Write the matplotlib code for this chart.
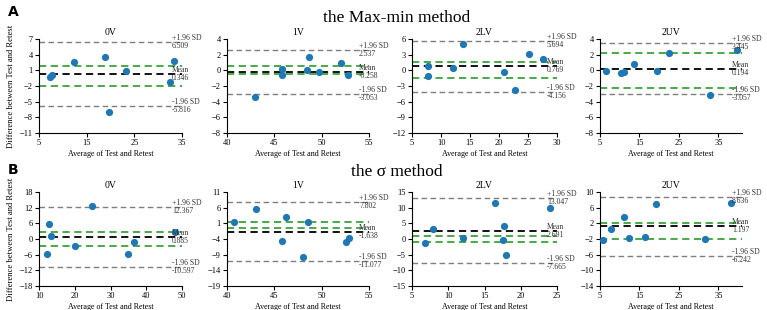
import matplotlib.pyplot as plt

plt.rcParams["font.family"] = ["Liberation Serif", "DejaVu Serif"]

# ==========================================================
# Data
# ==========================================================

panel_names = ["0V", "1V", "2LV", "2UV"]

# Max-min method
mm_0v_x = [7.25, 7.75, 12.4, 18.8, 23.2, 19.7, 32.4, 33.4]
mm_0v_y = [-0.2, 0.12, 2.6, 3.5, 0.9, -6.9, -1.3, 2.8]
mm_1v_x = [43.0, 45.8, 45.8, 48.4, 48.7, 49.7, 52.0, 52.8]
mm_1v_y = [-3.45, 0.13, -0.6, 0.1, 1.75, -0.17, 0.95, -0.6]
mm_2lv_x = [7.8, 7.8, 12.1, 13.8, 20.8, 22.7, 25.2, 27.6]
mm_2lv_y = [0.9, -1.1, 0.4, 4.95, -0.3, -3.85, 3.05, 2.2]
mm_2uv_x = [6.4, 10.4, 11.0, 13.5, 19.4, 22.6, 32.9, 39.8]
mm_2uv_y = [-0.1, -0.4, -0.15, 0.85, -0.1, 2.15, -3.1, 2.65]

# sigma method
sg_0v_x = [12.2, 12.8, 13.4, 20.1, 24.7, 34.8, 36.5, 48.1]
sg_0v_y = [-5.8, 5.9, 1.3, -2.6, 12.5, -5.8, -1.3, 2.6]
sg_1v_x = [40.7, 43.1, 45.8, 46.2, 48.0, 48.6, 52.6, 52.9]
sg_1v_y = [1.4, 5.6, -4.6, 2.9, -9.9, 1.4, -5.1, -3.7]
sg_2lv_x = [6.8, 7.9, 12.0, 16.4, 17.7, 17.6, 18.0, 24.1]
sg_2lv_y = [-1.4, 3.2, 0.2, 11.5, 4.3, -0.3, -5.0, 9.9]
sg_2uv_x = [5.8, 7.8, 11.0, 12.3, 16.4, 19.2, 31.7, 38.1]
sg_2uv_y = [-2.3, 0.5, 3.7, -1.8, -1.6, 7.0, -2.1, 7.1]

# limits of agreement: upper, mean, lower
mm_loa = [[6.509, 0.346, -5.816], [2.537, -0.258, -3.053],
          [5.694, 0.769, -4.156], [3.445, 0.194, -3.057]]
sg_loa = [[12.367, 0.885, -10.597], [7.802, -1.638, -11.077],
          [13.047, 2.691, -7.665], [8.636, 1.197, -6.242]]

# green dashed band
mm_band = [[1.8, -2.0], [0.55, -0.5], [1.5, -1.5], [2.2, -2.2]]
sg_band = [[2.6, -2.6], [1.3, -0.6], [1.1, -1.0], [2.0, -2.0]]

# axis ranges and ticks
mm_xticks = [[5, 15, 25, 35], [40, 45, 50, 55],
             [5, 10, 15, 20, 25, 30], [5, 15, 25, 35]]
mm_xmax = [35, 55, 30, 41]
mm_yticks = [[-11, -8, -5, -2, 1, 4, 7], [-8, -6, -4, -2, 0, 2, 4],
             [-12, -9, -6, -3, 0, 3, 6], [-8, -6, -4, -2, 0, 2, 4]]
sg_xticks = [[10, 20, 30, 40, 50], [40, 45, 50, 55],
             [5, 10, 15, 20, 25], [5, 15, 25, 35]]
sg_xmax = [50, 55, 25, 41]
sg_yticks = [[-18, -12, -6, 0, 6, 12, 18], [-19, -14, -9, -4, 1, 6, 11],
             [-15, -10, -5, 0, 5, 10, 15], [-14, -10, -6, -2, 2, 6, 10]]

mm_x = [mm_0v_x, mm_1v_x, mm_2lv_x, mm_2uv_x]
mm_y = [mm_0v_y, mm_1v_y, mm_2lv_y, mm_2uv_y]
sg_x = [sg_0v_x, sg_1v_x, sg_2lv_x, sg_2uv_x]
sg_y = [sg_0v_y, sg_1v_y, sg_2lv_y, sg_2uv_y]

# ==========================================================
# Figure
# ==========================================================

W, H = 767, 310
fig = plt.figure(figsize=(W / 100, H / 100), dpi=100)

col_px = [(39, 182), (227, 369), (412, 557), (600, 742)]
row_px = [(39, 133), (192, 286)]

BLUE = "#1f77b4"
GREEN = "#3aa33a"
GREY = "#7f7f7f"
TXT = "#333333"


def draw_panel(ax, xs, ys, loa, band, xticks, xmax, yticks, name, first):
    ax.scatter(xs, ys, s=27, color=BLUE, zorder=3, linewidths=0)
    ax.axhline(loa[0], color=GREY, ls="--", lw=1.0, dashes=(4, 2.5))
    ax.axhline(loa[2], color=GREY, ls="--", lw=1.0, dashes=(4, 2.5))
    for b in band:
        ax.axhline(b, color=GREEN, ls="--", lw=1.3, dashes=(4, 2.5))
    ax.axhline(loa[1], color="black", ls="--", lw=1.3, dashes=(4, 2.5))

    ax.set_xlim(xticks[0], xmax)
    ax.set_ylim(yticks[0], yticks[-1])
    ax.set_xticks(xticks)
    ax.set_yticks(yticks)
    ax.tick_params(labelsize=6, length=3, width=0.8, pad=1.5)
    for s in ["top", "right"]:
        ax.spines[s].set_visible(False)
    ax.set_title(name, fontsize=7, pad=3)
    ax.set_xlabel("Average of Test and Retest", fontsize=5.8, labelpad=2)
    if first:
        ax.set_ylabel("Difference between Test and Retest", fontsize=6.2)
        ax.yaxis.set_label_coords(-24 / (col_px[0][1] - col_px[0][0]), 0.5)

    tr = ax.get_yaxis_transform()
    tx = 0.93
    kw = dict(transform=tr, fontsize=5.5, color=TXT, clip_on=False)
    ax.text(tx, loa[0], "+1.96 SD", va="bottom", **kw)
    ax.text(tx, loa[0], f"{loa[0]:.3f}", va="top", **kw)
    ax.text(tx, loa[1], "Mean", va="bottom", **kw)
    ax.text(tx, loa[1], f"{loa[1]:.3f}", va="top", **kw)
    ax.text(tx, loa[2], "-1.96 SD", va="bottom", **kw)
    ax.text(tx, loa[2], f"{loa[2]:.3f}", va="top", **kw)


rows = [
    (mm_x, mm_y, mm_loa, mm_band, mm_xticks, mm_xmax, mm_yticks),
    (sg_x, sg_y, sg_loa, sg_band, sg_xticks, sg_xmax, sg_yticks),
]

for r, (xs, ys, loa, band, xt, xm, yt) in enumerate(rows):
    top, bot = row_px[r]
    for c in range(4):
        l, rr = col_px[c]
        ax = fig.add_axes([l / W, 1 - bot / H, (rr - l) / W, (bot - top) / H])
        draw_panel(ax, xs[c], ys[c], loa[c], band[c], xt[c], xm[c], yt[c],
                   panel_names[c], c == 0)

fig.text(397 / W, 1 - 18 / H, "the Max-min method", fontsize=12.5,
         ha="center", va="center")
fig.text(397 / W, 1 - 172 / H, "the σ method", fontsize=12.5,
         ha="center", va="center")
fig.text(8 / W, 1 - 12 / H, "A", fontsize=10, fontweight="bold",
         family="DejaVu Sans", va="center")
fig.text(8 / W, 1 - 170 / H, "B", fontsize=10, fontweight="bold",
         family="DejaVu Sans", va="center")

fig.savefig("out.png", dpi=100)
